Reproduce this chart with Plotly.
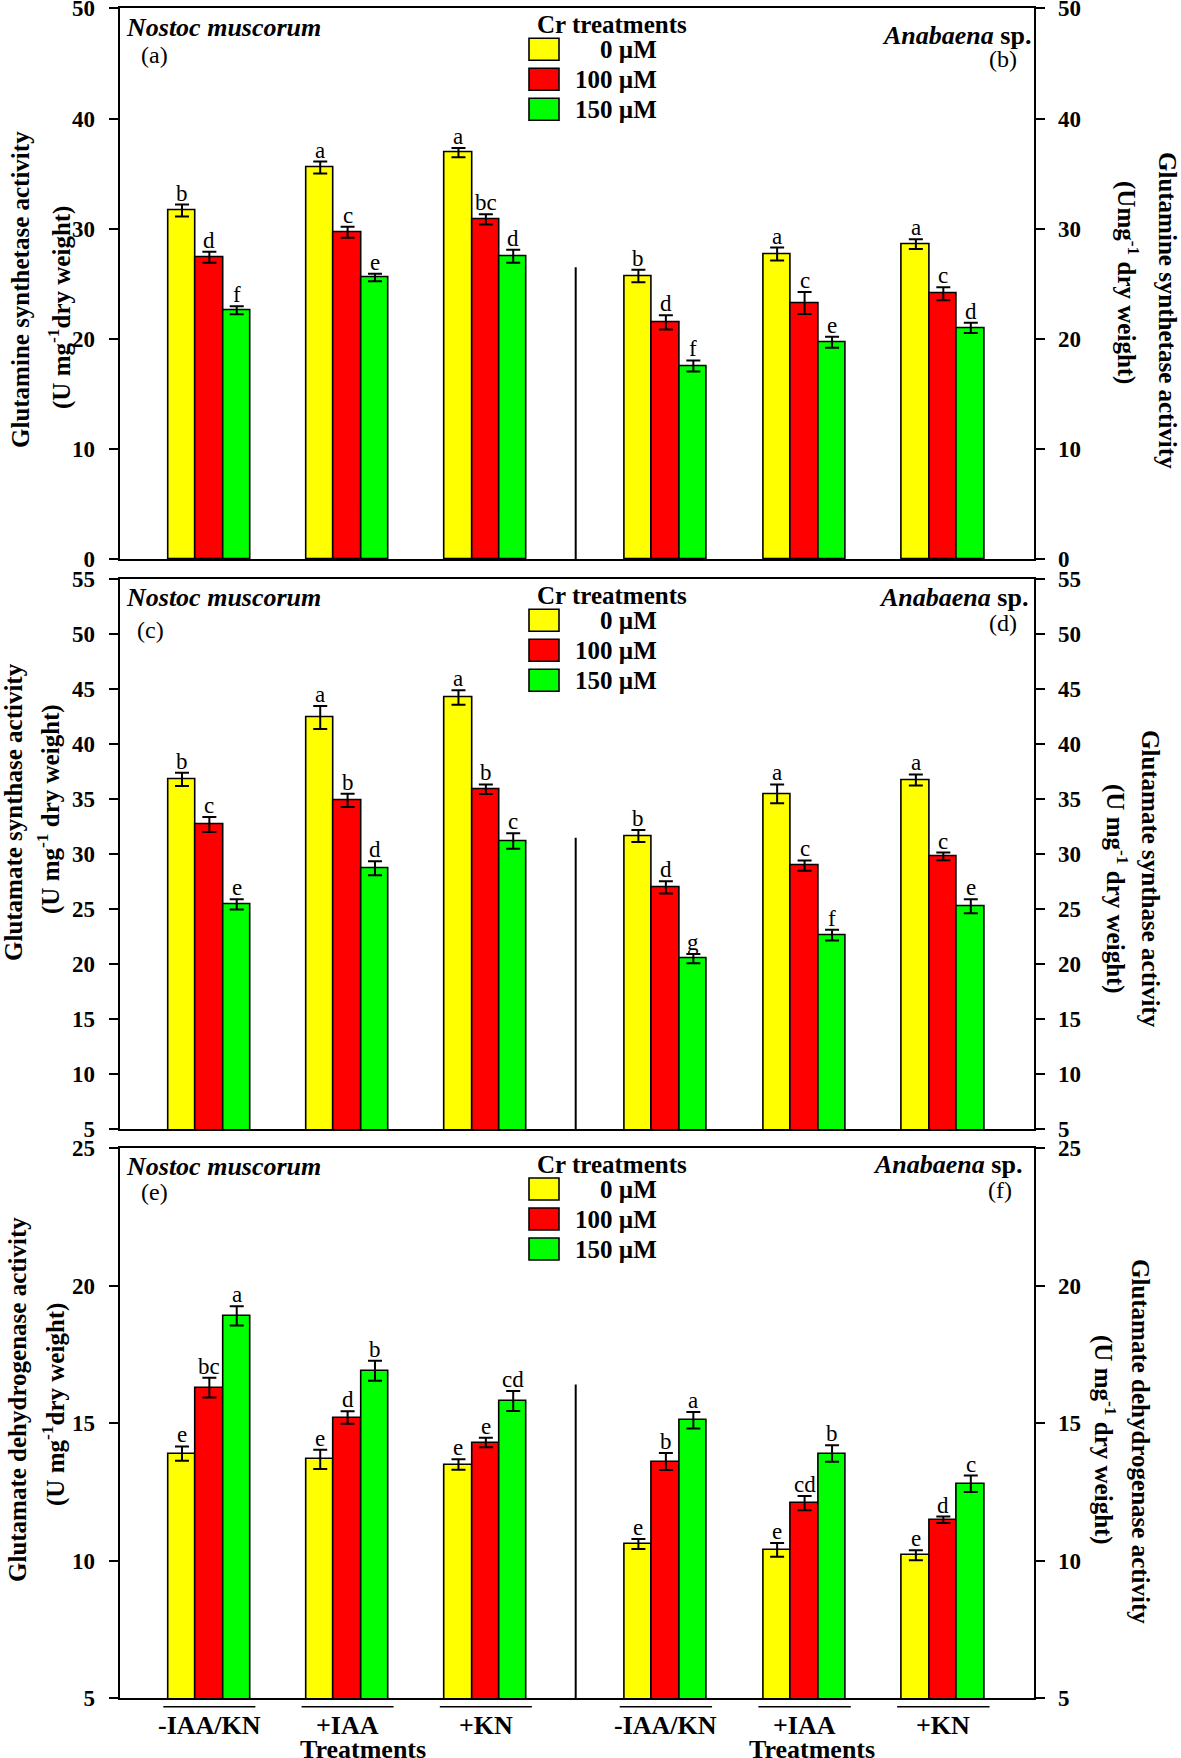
import plotly.graph_objects as go

W, H = 1181, 1758
FONT = "Liberation Serif"

# ---------------- data ----------------
treatments = ["-IAA/KN", "+IAA", "+KN"]
cr_levels = ["0 µM", "100 µM", "150 µM"]
bar_colors = ["#FFFF00", "#FF0000", "#00FF00"]

# rows = Cr level (0, 100, 150 µM), columns = treatment (-IAA/KN, +IAA, +KN)
gs_nostoc = [[31.65, 35.55, 36.9], [27.4, 29.67, 30.85], [22.6, 25.57, 27.5]]
gs_nostoc_err = [[0.54, 0.54, 0.42], [0.5, 0.5, 0.47], [0.37, 0.34, 0.59]]
gs_nostoc_sig = [["b", "a", "a"], ["d", "c", "bc"], ["f", "e", "d"]]

gs_anabaena = [[25.7, 27.7, 28.6], [21.5, 23.25, 24.1], [17.54, 19.7, 21.0]]
gs_anabaena_err = [[0.57, 0.59, 0.44], [0.64, 1.0, 0.59], [0.5, 0.5, 0.47]]
gs_anabaena_sig = [["b", "a", "a"], ["d", "c", "c"], ["f", "e", "d"]]

gogat_nostoc = [[36.8, 42.43, 44.25], [32.7, 34.9, 35.9], [25.43, 28.72, 31.2]]
gogat_nostoc_err = [[0.6, 1.04, 0.66], [0.69, 0.6, 0.44], [0.47, 0.64, 0.7]]
gogat_nostoc_sig = [["b", "a", "a"], ["c", "b", "b"], ["e", "d", "c"]]

gogat_anabaena = [[31.65, 35.48, 36.75], [26.98, 28.96, 29.8], [20.5, 22.64, 25.26]]
gogat_anabaena_err = [[0.54, 0.86, 0.5], [0.55, 0.47, 0.35], [0.42, 0.49, 0.64]]
gogat_anabaena_sig = [["b", "a", "a"], ["d", "c", "c"], ["g", "f", "e"]]

gdh_nostoc = [[13.89, 13.68, 13.49], [16.29, 15.2, 14.29], [18.9, 16.9, 15.8]]
gdh_nostoc_err = [[0.26, 0.35, 0.19], [0.36, 0.23, 0.17], [0.35, 0.36, 0.36]]
gdh_nostoc_sig = [["e", "e", "e"], ["bc", "d", "e"], ["a", "b", "cd"]]

gdh_anabaena = [[10.6, 10.39, 10.19], [13.6, 12.09, 11.48], [15.1, 13.89, 12.79]]
gdh_anabaena_err = [[0.18, 0.25, 0.18], [0.31, 0.26, 0.12], [0.3, 0.3, 0.3]]
gdh_anabaena_sig = [["e", "e", "e"], ["b", "cd", "d"], ["a", "b", "c"]]

y_ranges = [[0, 50], [5, 55], [5, 25]]
y_dticks = [10, 5, 5]
divider_tops = [26.5, 31.5, 16.4]

left_titles = ["Glutamine synthetase activity", "Glutamate synthase activity",
               "Glutamate dehydrogenase activity"]
left_units = ["(U mg<sup>-1</sup>dry weight)", "(U mg<sup>-1</sup> dry weight)",
              "(U mg<sup>-1</sup>dry weight)"]
right_units = ["(Umg<sup>-1</sup> dry weight)", "(U mg<sup>-1</sup> dry weight)",
               "(U mg<sup>-1</sup> dry weight)"]
left_tags = ["(a)", "(c)", "(e)"]
right_tags = ["(b)", "(d)", "(f)"]

panels = [
    (gs_nostoc, gs_nostoc_err, gs_nostoc_sig, gs_anabaena, gs_anabaena_err, gs_anabaena_sig),
    (gogat_nostoc, gogat_nostoc_err, gogat_nostoc_sig, gogat_anabaena, gogat_anabaena_err, gogat_anabaena_sig),
    (gdh_nostoc, gdh_nostoc_err, gdh_nostoc_sig, gdh_anabaena, gdh_anabaena_err, gdh_anabaena_sig),
]

# ---------------- layout geometry (pixels) ----------------
row_px = [(8.3, 559.3), (579.3, 1129.0), (1148.0, 1698.0)]
x_left_px, x_mid_px, x_right_px = 119.5, 575.7, 1033.5
BW = 0.198  # bar width in category units
XR = [-0.65, 2.65]


def px_x(p):
    return p / W


def px_y(p):
    return 1 - p / H


def ax_name(n, kind):
    return kind if n == 1 else f"{kind}{n}"


fig = go.Figure()
layout = dict(
    width=W, height=H, autosize=False,
    margin=dict(l=0, r=0, t=0, b=0, pad=0),
    paper_bgcolor="white", plot_bgcolor="white",
    showlegend=False, bargap=0, barmode="overlay",
    font=dict(family=FONT, color="black"),
)
annotations = []
shapes = []

for r, (top, bot) in enumerate(row_px):
    ydom = [px_y(bot), px_y(top)]
    data_l = panels[r][:3]
    data_r = panels[r][3:]
    for side in range(2):
        n = 2 * r + 1 + side
        xa, ya = ax_name(n, "x"), ax_name(n, "y")
        xdom = [px_x(x_left_px), px_x(x_mid_px)] if side == 0 else [px_x(x_mid_px), px_x(x_right_px)]
        layout["xaxis" if n == 1 else f"xaxis{n}"] = dict(
            domain=xdom, anchor=ya, range=XR, showline=True, linewidth=2, linecolor="black",
            mirror=True, ticks="", showticklabels=False, showgrid=False, zeroline=False,
            automargin=False,
        )
        y0, y1 = y_ranges[r]
        layout["yaxis" if n == 1 else f"yaxis{n}"] = dict(
            domain=ydom, anchor=xa, range=[y0, y1], side="left" if side == 0 else "right",
            showline=True, linewidth=2, linecolor="black", ticks="outside", ticklen=9,
            tickwidth=2, tickcolor="black", tickmode="linear", tick0=y0, dtick=y_dticks[r],
            showgrid=False, zeroline=False, automargin=False,
            ticklabeloverflow="allow", ticklabelstandoff=9,
            tickfont=dict(family=FONT, size=23, color="black", weight="bold"),
        )
        vals, errs, sigs = data_l if side == 0 else data_r
        for k in range(3):
            fig.add_trace(go.Bar(
                x=[0, 1, 2], y=vals[k], width=BW, offset=(k - 1.5) * BW,
                marker=dict(color=bar_colors[k], line=dict(color="black", width=1.6)),
                error_y=dict(type="data", array=errs[k], color="black", thickness=2, width=7),
                xaxis=xa, yaxis=ya, name=cr_levels[k],
            ))
            for i in range(3):
                annotations.append(dict(
                    x=i + (k - 1) * BW, y=vals[k][i] + errs[k][i], xref=xa, yref=ya,
                    text=sigs[k][i], showarrow=False, yanchor="bottom", yshift=-3,
                    font=dict(family=FONT, size=23, color="black"),
                ))
    # partial divider between the two organisms
    shapes.append(dict(type="line", xref=f"{ax_name(2 * r + 2, 'x')} domain", x0=0, x1=0,
                       yref=ax_name(2 * r + 2, "y"), y0=y_ranges[r][0], y1=divider_tops[r],
                       line=dict(color="black", width=2)))

    # organism names and panel tags
    nostoc_dy = [19, 18, 18][r]
    anab_dy = [27, 18, 16][r]
    annotations.append(dict(x=px_x(124), y=px_y(top + nostoc_dy), xref="paper", yref="paper",
                            xanchor="left", yanchor="middle", showarrow=False,
                            text="<b><i>Nostoc muscorum</i></b>",
                            font=dict(family=FONT, size=26, color="black")))
    annotations.append(dict(x=px_x([139, 135, 139][r]), y=px_y(top + [47, 51, 44][r]), xref="paper",
                            yref="paper", xanchor="left", yanchor="middle", showarrow=False,
                            text=left_tags[r], font=dict(family=FONT, size=24, color="black")))
    annotations.append(dict(x=px_x([1033, 1030, 1024][r]), y=px_y(top + anab_dy), xref="paper",
                            yref="paper", xanchor="right", yanchor="middle", showarrow=False,
                            text="<b><i>Anabaena</i> sp.</b>",
                            font=dict(family=FONT, size=26, color="black")))
    annotations.append(dict(x=px_x([1019, 1019, 1014][r]), y=px_y(top + [51, 44, 42][r]), xref="paper",
                            yref="paper", xanchor="right", yanchor="middle", showarrow=False,
                            text=right_tags[r], font=dict(family=FONT, size=24, color="black")))

    # legend block
    annotations.append(dict(x=px_x(612), y=px_y(top + 16.5), xref="paper", yref="paper",
                            xanchor="center", yanchor="middle", showarrow=False,
                            text="<b>Cr treatments</b>", font=dict(family=FONT, size=25, color="black")))
    for k in range(3):
        bt = top + 30 + 30 * k
        shapes.append(dict(type="rect", xref="paper", yref="paper",
                           x0=px_x(529), x1=px_x(559), y0=px_y(bt + 22), y1=px_y(bt),
                           fillcolor=bar_colors[k], line=dict(color="black", width=1.6)))
        annotations.append(dict(x=px_x(659), y=px_y(bt + 11), xref="paper", yref="paper",
                                xanchor="right", yanchor="middle", showarrow=False,
                                text=f"<b>{cr_levels[k]}</b>",
                                font=dict(family=FONT, size=25, color="black")))

    # y-axis titles
    l1x = [21, 13, 17][r]
    l2x = [60, 48, 53][r]
    annotations.append(dict(x=px_x(l1x), y=px_y([290, 812, 1400][r]), xref="paper", yref="paper",
                            xanchor="center", yanchor="middle", showarrow=False, textangle=-90,
                            text=f"<b>{left_titles[r]}</b>", font=dict(family=FONT, size=25, color="black")))
    annotations.append(dict(x=px_x(l2x), y=px_y([308, 809, 1405][r]), xref="paper", yref="paper",
                            xanchor="center", yanchor="middle", showarrow=False, textangle=-90,
                            text=f"<b>{left_units[r]}</b>", font=dict(family=FONT, size=25, color="black")))
    r1x = [1168, 1151, 1141][r]
    r2x = [1127, 1117, 1105][r]
    annotations.append(dict(x=px_x(r1x), y=px_y([310, 879, 1441][r]), xref="paper", yref="paper",
                            xanchor="center", yanchor="middle", showarrow=False, textangle=90,
                            text=f"<b>{left_titles[r]}</b>", font=dict(family=FONT, size=25, color="black")))
    annotations.append(dict(x=px_x(r2x), y=px_y([282, 889, 1440][r]), xref="paper", yref="paper",
                            xanchor="center", yanchor="middle", showarrow=False, textangle=90,
                            text=f"<b>{right_units[r]}</b>", font=dict(family=FONT, size=25, color="black")))

# bottom treatment labels with overlines
for side in range(2):
    xa = ax_name(5 + side, "x")
    for i, t in enumerate(treatments):
        shapes.append(dict(type="line", xref=xa, yref="paper", x0=i - 0.333, x1=i + 0.333,
                           y0=px_y(1706.7), y1=px_y(1706.7), line=dict(color="black", width=1.5)))
        annotations.append(dict(x=i, xref=xa, y=px_y(1725), yref="paper", xanchor="center",
                                yanchor="middle", showarrow=False, text=f"<b>{t}</b>",
                                font=dict(family=FONT, size=26, color="black")))
    annotations.append(dict(x=px_x([363, 812][side]), y=px_y(1749), xref="paper", yref="paper",
                            xanchor="center", yanchor="middle", showarrow=False,
                            text="<b>Treatments</b>", font=dict(family=FONT, size=26, color="black")))

layout["annotations"] = annotations
layout["shapes"] = shapes
fig.update_layout(**layout)
fig.write_html("out.html", config={"displayModeBar": False},
               post_script="document.body.style.margin='0';document.body.style.overflow='hidden';")
